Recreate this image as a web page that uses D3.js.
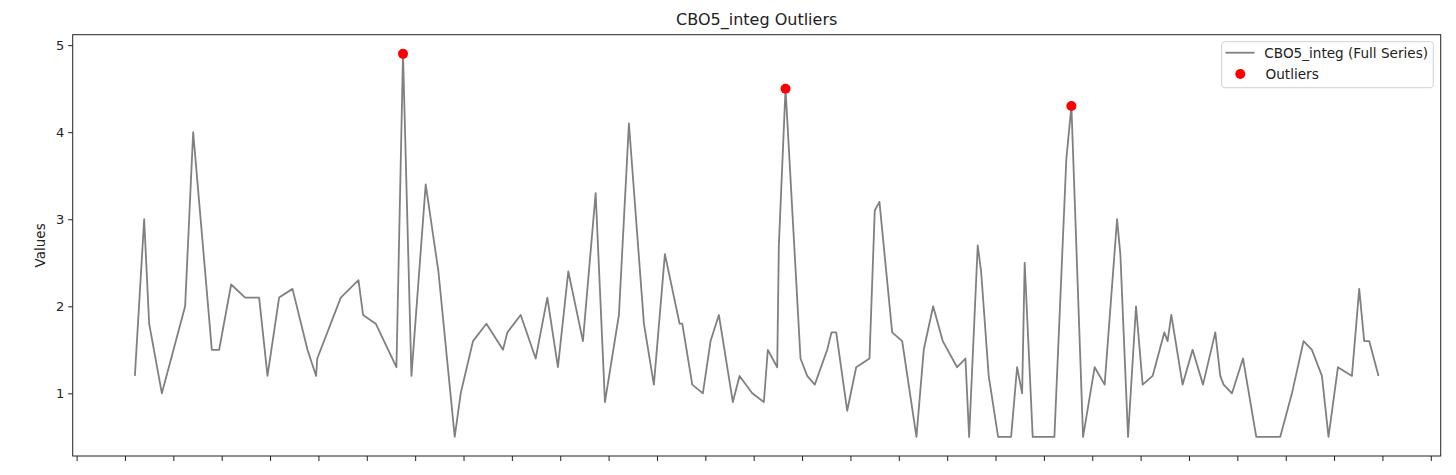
<!DOCTYPE html>
<html>
<head>
<meta charset="utf-8">
<script src="https://cdn.jsdelivr.net/npm/d3@7"></script>
<style>
  html, body { margin: 0; padding: 0; background: #fff; }
  svg { display: block; font-family: "DejaVu Sans", sans-serif; }
</style>
</head>
<body>
<svg id="chart" width="1456" height="475"></svg>
<script>
// ---- data (x = time position, y = value) ----
const seriesT = [12.05,13.97,15.00,17.63,22.44,24.10,27.96,29.47,31.95,34.84,37.74,39.47,41.87,44.64,47.74,49.52,49.76,
  54.62,58.28,59.23,61.85,66.13,67.49,69.23,72.18,74.81,78.18,79.42,81.96,84.73,88.16,89.07,91.82,94.92,97.33,
  99.52,101.67,104.69,107.32,109.24,112.13,114.20,117.30,119.36,121.64,124.68,125.23,127.30,129.49,131.08,132.80,
  135.69,137.07,139.70,142.10,142.92,144.86,145.20,146.58,149.68,151.06,152.63,155.20,156.09,157.06,159.33,161.19,
  163.94,165.03,166.00,168.63,170.70,173.65,175.16,177.10,179.09,182.06,183.78,184.54,186.32,187.02,188.59,190.53,
  193.22,194.46,195.50,196.03,197.69,202.17,204.65,205.69,208.10,210.50,212.56,215.13,215.81,217.40,219.05,220.42,
  222.48,224.90,225.58,226.35,228.68,230.75,232.90,235.44,236.47,237.16,238.89,241.17,243.91,248.87,251.29,253.69,
  255.42,257.49,258.85,260.80,263.69,265.20,266.23,267.27,269.19];
const seriesV = [1.2,3.0,1.8,1.0,2.0,4.0,1.5,1.5,2.25,2.1,2.1,1.2,2.1,2.2,1.5,1.2,1.4,
  2.1,2.3,1.9,1.8,1.3,4.9,1.2,3.4,2.4,0.5,1.0,1.6,1.8,1.5,1.7,1.9,1.4,2.1,
  1.3,2.4,1.6,3.3,0.9,1.9,4.1,1.8,1.1,2.6,1.8,1.8,1.1,1.0,1.6,1.9,
  0.9,1.2,1.0,0.9,1.5,1.3,2.7,4.5,1.4,1.2,1.1,1.5,1.7,1.7,0.8,1.3,
  1.4,3.1,3.2,1.7,1.6,0.5,1.5,2.0,1.6,1.3,1.4,0.5,2.7,2.4,1.2,0.5,
  0.5,1.3,1.0,2.5,0.5,0.5,3.7,4.3,0.5,1.3,1.1,3.0,2.6,0.5,2.0,1.1,
  1.2,1.7,1.6,1.9,1.1,1.5,1.1,1.7,1.2,1.1,1.0,1.4,0.5,0.5,1.0,1.6,
  1.5,1.2,0.5,1.3,1.2,2.2,1.6,1.6,1.2];
const outlierT = [67.49, 146.58, 205.69];
const outlierV = [4.9, 4.5, 4.3];
const yTicks = [1, 2, 3, 4, 5];
const xTicks = d3.range(0, 281, 10);
const titleText = "CBO5_integ Outliers";
const yLabel = "Values";
const legendLabels = ["CBO5_integ (Full Series)", "Outliers"];

// ---- layout ----
const L = 72.7, R = 1440.7, T = 34.7, B = 456;
const svg = d3.select("#chart");

const tMin = d3.min(seriesT), tMax = d3.max(seriesT);
const tPad = (tMax - tMin) * 0.05;
const vMin = d3.min(seriesV), vMax = d3.max(seriesV);
const vPad = (vMax - vMin) * 0.05;

const x = d3.scaleLinear().domain([tMin - tPad, tMax + tPad]).range([L, R]);
const y = d3.scaleLinear().domain([vMin - vPad, vMax + vPad]).range([B, T]);

// line
const pts = seriesT.map((t, i) => [t, seriesV[i]]);
svg.append("path")
  .datum(pts)
  .attr("fill", "none")
  .attr("stroke", "#808080")
  .attr("stroke-width", 1.8)
  .attr("stroke-linejoin", "round")
  .attr("d", d3.line().x(d => x(d[0])).y(d => y(d[1])));

// outliers
svg.append("g").selectAll("circle")
  .data(outlierT.map((t, i) => [t, outlierV[i]]))
  .join("circle")
  .attr("cx", d => x(d[0]))
  .attr("cy", d => y(d[1]))
  .attr("r", 5)
  .attr("fill", "#ff0000");

// axes
const yAxis = d3.axisLeft(y).tickValues(yTicks).tickSize(4.5).tickPadding(4).tickFormat(d3.format("d"));
const gy = svg.append("g").attr("transform", `translate(${L},0)`).call(yAxis);
gy.select(".domain").remove();
gy.selectAll("text").attr("font-size", 13).attr("fill", "#222").attr("font-family", "DejaVu Sans");
gy.selectAll("line").attr("stroke", "#222");

const xAxis = d3.axisBottom(x).tickValues(xTicks).tickSize(5).tickFormat("");
const gx = svg.append("g").attr("transform", `translate(0,${B})`).call(xAxis);
gx.select(".domain").remove();
gx.selectAll("line").attr("stroke", "#222");

// frame
svg.append("rect")
  .attr("x", L).attr("y", T).attr("width", R - L).attr("height", B - T)
  .attr("fill", "none").attr("stroke", "#222").attr("stroke-width", 1);

// title
svg.append("text")
  .attr("x", (L + R) / 2).attr("y", 25)
  .attr("text-anchor", "middle")
  .attr("font-size", 16).attr("fill", "#222")
  .text(titleText);

// y label
svg.append("text")
  .attr("transform", `translate(45,${(T + B) / 2}) rotate(-90)`)
  .attr("text-anchor", "middle")
  .attr("font-size", 13.5).attr("fill", "#222")
  .text(yLabel);

// legend
const lg = svg.append("g");
lg.append("rect")
  .attr("x", 1221.7).attr("y", 41.7).attr("width", 211.6).attr("height", 46)
  .attr("rx", 3).attr("fill", "#fff").attr("fill-opacity", 0.8)
  .attr("stroke", "#d0d0d0").attr("stroke-width", 1);
lg.append("line")
  .attr("x1", 1225.5).attr("x2", 1254.5).attr("y1", 52.7).attr("y2", 52.7)
  .attr("stroke", "#808080").attr("stroke-width", 1.8);
lg.append("text")
  .attr("x", 1264.3).attr("y", 57.5)
  .attr("font-size", 13.6).attr("fill", "#222")
  .text(legendLabels[0]);
lg.append("circle")
  .attr("cx", 1240.3).attr("cy", 74).attr("r", 5).attr("fill", "#ff0000");
lg.append("text")
  .attr("x", 1265.5).attr("y", 78.7)
  .attr("font-size", 13.6).attr("fill", "#222")
  .text(legendLabels[1]);
</script>
</body>
</html>
